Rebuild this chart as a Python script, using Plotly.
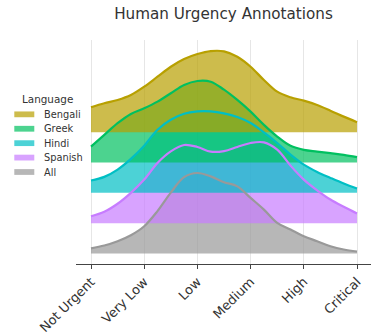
import plotly.graph_objects as go

categories = ["Not Urgent", "Very Low", "Low", "Medium", "High", "Critical"]
# sample positions (quarter steps between categories)
grid = [i / 4 for i in range(21)]

languages = ["All", "Spanish", "Hindi", "Greek", "Bengali"]
legend_order = ["Bengali", "Greek", "Hindi", "Spanish", "All"]

bengali = [25.0, 29.0, 32.3, 37.3, 45.6, 55.6, 65.6, 73.3, 78.3, 81.3, 81.0,
           75.6, 65.6, 52.3, 40.6, 35.0, 31.6, 27.3, 21.6, 15.6, 10.0]
greek = [16.0, 27.7, 39.4, 48.7, 54.4, 61.0, 69.4, 77.7, 81.7, 81.0, 73.0,
         62.7, 51.0, 37.7, 26.0, 16.7, 12.7, 11.0, 9.4, 7.7, 5.4]
hindi = [12.4, 16.0, 23.3, 34.0, 47.3, 63.3, 73.3, 79.3, 81.6, 81.6, 79.6,
         76.0, 70.0, 60.6, 50.0, 38.3, 28.3, 21.0, 15.0, 9.3, 4.3]
spanish = [7.0, 11.5, 19.5, 30.4, 43.7, 60.4, 72.0, 78.4, 76.4, 71.7, 72.3,
           76.4, 80.4, 81.0, 73.7, 57.7, 43.7, 33.0, 23.7, 16.4, 9.7]
all_ = [5.2, 8.0, 12.3, 18.3, 27.3, 42.5, 61.0, 76.5, 80.7, 77.3, 71.5,
        67.3, 55.7, 44.0, 30.7, 24.0, 17.3, 12.3, 7.3, 4.0, 2.0]

series = {"All": all_, "Spanish": spanish, "Hindi": hindi, "Greek": greek, "Bengali": bengali}

line_colors = {
    "Bengali": "rgb(184,160,0)",
    "Greek": "rgb(0,192,96)",
    "Hindi": "rgb(0,191,196)",
    "Spanish": "rgb(199,124,255)",
    "All": "rgb(153,153,153)",
}
fill_alpha = 0.7
spacing = 30.4

W, H = 377, 335
ML, MR, MT, MB = 76, 6, 40, 70.5
PW, PH = W - ML - MR, H - MT - MB


def rgba(c, a):
    return c.replace("rgb(", "rgba(").replace(")", f",{a})")


def px_x(px):
    return (px - ML) / PW


def px_y(py):
    return (H - MB - py) / PH


fig = go.Figure()

# fills (bottom row first, top row last)
for i, lang in enumerate(languages):
    off = i * spacing
    fig.add_trace(go.Scatter(x=grid, y=[off] * len(grid), mode="lines",
                             line=dict(width=0), showlegend=False, hoverinfo="skip"))
    fig.add_trace(go.Scatter(x=grid, y=[off + v for v in series[lang]], mode="lines",
                             line=dict(width=0, shape="spline", color=line_colors[lang]),
                             fill="tonexty", fillcolor=rgba(line_colors[lang], fill_alpha),
                             name=lang, showlegend=False))

# lines on top
for i, lang in enumerate(languages):
    off = i * spacing
    fig.add_trace(go.Scatter(x=grid, y=[off + v for v in series[lang]], mode="lines",
                             line=dict(width=2.2, shape="spline", color=line_colors[lang]),
                             name=lang, showlegend=False))

# manual legend
shapes = []
annotations = [dict(text="Language", xref="paper", yref="paper", x=px_x(47.8), y=px_y(99.5),
                    xanchor="center", yanchor="middle", showarrow=False,
                    font=dict(size=10.4, color="#333333"))]
for k, lang in enumerate(legend_order):
    cy = 114.5 + k * 14.45
    shapes.append(dict(type="rect", xref="paper", yref="paper",
                       x0=px_x(14.3), x1=px_x(34.3), y0=px_y(cy - 2.9), y1=px_y(cy + 2.9),
                       fillcolor=rgba(line_colors[lang], fill_alpha), line=dict(width=0)))
    annotations.append(dict(text=lang, xref="paper", yref="paper", x=px_x(42.3), y=px_y(cy),
                            xanchor="left", yanchor="middle", showarrow=False,
                            font=dict(size=9.8, color="#333333")))

fig.update_layout(
    width=W, height=H,
    margin=dict(l=ML, r=MR, t=MT, b=MB, autoexpand=False),
    paper_bgcolor="white", plot_bgcolor="white",
    font=dict(family="DejaVu Sans", color="#333333"),
    title=dict(text="Human Urgency Annotations", x=223.5 / W, xanchor="center",
               xref="container", y=1 - 14 / H, yanchor="middle",
               font=dict(size=15.2, color="#333333")),
    showlegend=False,
    shapes=shapes,
    annotations=annotations,
)
fig.update_xaxes(range=[-0.282, 5.263], tickmode="array", tickvals=list(range(6)),
                 ticktext=categories, tickangle=-45, showgrid=True,
                 gridcolor="#E6E6E6", gridwidth=1, zeroline=False,
                 showline=True, linecolor="#444444", linewidth=1.2,
                 ticks="outside", ticklen=4, tickcolor="#444444",
                 tickfont=dict(size=13, color="#333333"))
fig.update_yaxes(range=[-10.5, 214], visible=False, showgrid=False, zeroline=False)

fig.write_html("out.html", config={"displayModeBar": False},
               post_script="document.body.style.margin='0';")
